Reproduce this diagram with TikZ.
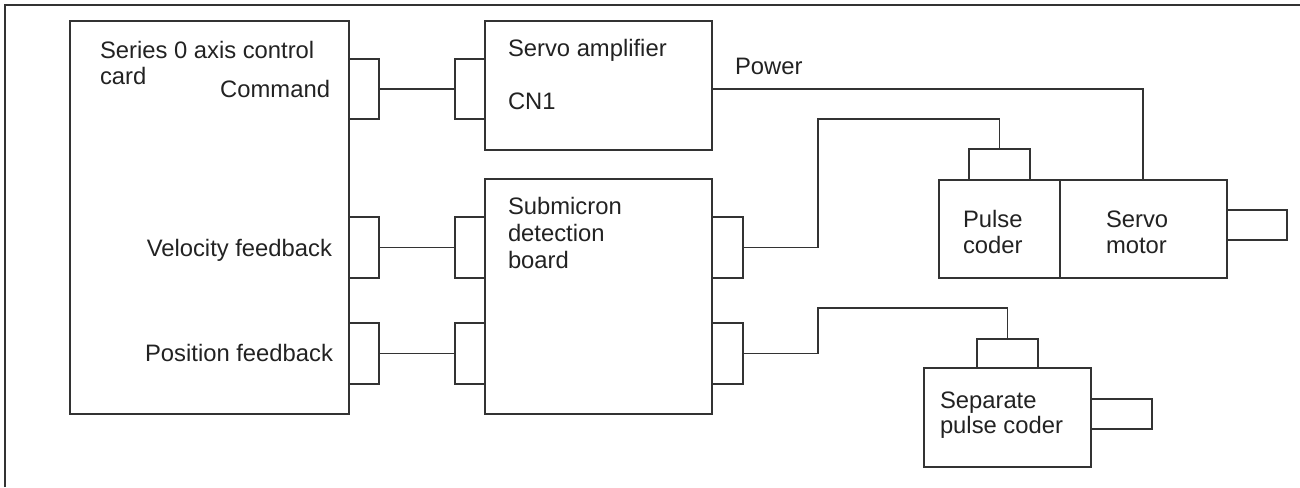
\documentclass[tikz,border=0pt]{standalone}
\usepackage{fontspec}
\setmainfont{Liberation Sans}
\usetikzlibrary{fit}
\definecolor{ink}{HTML}{333333}
\definecolor{txt}{HTML}{222222}
\tikzset{
  blk/.style={draw=ink, line width=0.6pt, inner sep=0pt, outer sep=0pt},
  wire/.style={draw=ink, line width=0.6pt},
  frame/.style={draw=ink, line width=1.1pt},
  lbl/.style={inner sep=0pt, outer sep=0pt, text=txt, font=\fontsize{11.9}{13}\selectfont},
}
\begin{document}
\begin{tikzpicture}[x=0.5pt, y=-0.5pt]
\useasboundingbox (0,0) rectangle (1300,487);
% outer frame (open on right and bottom)
\draw[frame] (5,487) -- (5,5) -- (1300,5);
% axis control card
\node[blk, fit={(70,21)(349,414)}] (card) {};
\node[blk, fit={(349,59)(379,119)}] (conCmd) {};
\node[blk, fit={(349,217)(379,278)}] (conVel) {};
\node[blk, fit={(349,323)(379,384)}] (conPos) {};
% servo amplifier
\node[blk, fit={(485,21)(712,150)}] (amp) {};
\node[blk, fit={(455,59)(485,119)}] (ampCon) {};
% submicron detection board
\node[blk, fit={(485,179)(712,414)}] (sub) {};
\node[blk, fit={(455,217)(485,278)}] (subInV) {};
\node[blk, fit={(455,323)(485,384)}] (subInP) {};
\node[blk, fit={(712,217)(743,278)}] (subOutA) {};
\node[blk, fit={(712,323)(743,384)}] (subOutB) {};
% pulse coder + servo motor
\node[blk, fit={(969,149)(1030,180)}] (pcCon) {};
\node[blk, fit={(939,180)(1060,278)}] (pc) {};
\node[blk, fit={(1060,180)(1227,278)}] (motor) {};
\node[blk, fit={(1227,210)(1287,240)}] (shaft) {};
% separate pulse coder
\node[blk, fit={(977,339)(1038,368)}] (spcCon) {};
\node[blk, fit={(924,368)(1091,467)}] (spc) {};
\node[blk, fit={(1091,399)(1152,429)}] (spcShaft) {};
% connectors
\draw[wire] (conCmd.east) -- (ampCon.west);
\draw[wire] (conVel.east) -- (subInV.west);
\draw[wire] (conPos.east) -- (subInP.west);
\coordinate (bendA) at (818,119);
\coordinate (bendB) at (818,308);
\draw[wire] (subOutA.east) -| (bendA) -| (pcCon.north);
\draw[wire] (subOutB.east) -| (bendB) -| (spcCon.north);
\coordinate (pwrIn) at (1143,180);
\draw[wire] (ampCon.center -| amp.east) -| (pwrIn);
% labels
\node[lbl, anchor=base west] (t1) at (100,58) {Series 0 axis control};
\node[lbl, anchor=base west] (t2) at (100,84) {card};
\node[lbl, anchor=base east] (t3) at (330,97) {Command};
\node[lbl, anchor=base east] (t4) at (332,256) {Velocity feedback};
\node[lbl, anchor=base east] (t5) at (333,361) {Position feedback};
\node[lbl, anchor=base west] (t6) at (508,56) {Servo amplifier};
\node[lbl, anchor=base west] (t7) at (508,109) {CN1};
\node[lbl, anchor=base west] (t8) at (735,74) {Power};
\node[lbl, anchor=base west] (t9) at (508,214) {Submicron};
\node[lbl, anchor=base west] (t10) at (508,241) {detection};
\node[lbl, anchor=base west] (t11) at (508,268) {board};
\node[lbl, anchor=base west] (t12) at (963,227) {Pulse};
\node[lbl, anchor=base west] (t13) at (963,253) {coder};
\node[lbl, anchor=base west] (t14) at (1106,227) {Servo};
\node[lbl, anchor=base west] (t15) at (1106,253) {motor};
\node[lbl, anchor=base west] (t16) at (940,408) {Separate};
\node[lbl, anchor=base west] (t17) at (940,433) {pulse coder};
\end{tikzpicture}
\end{document}
